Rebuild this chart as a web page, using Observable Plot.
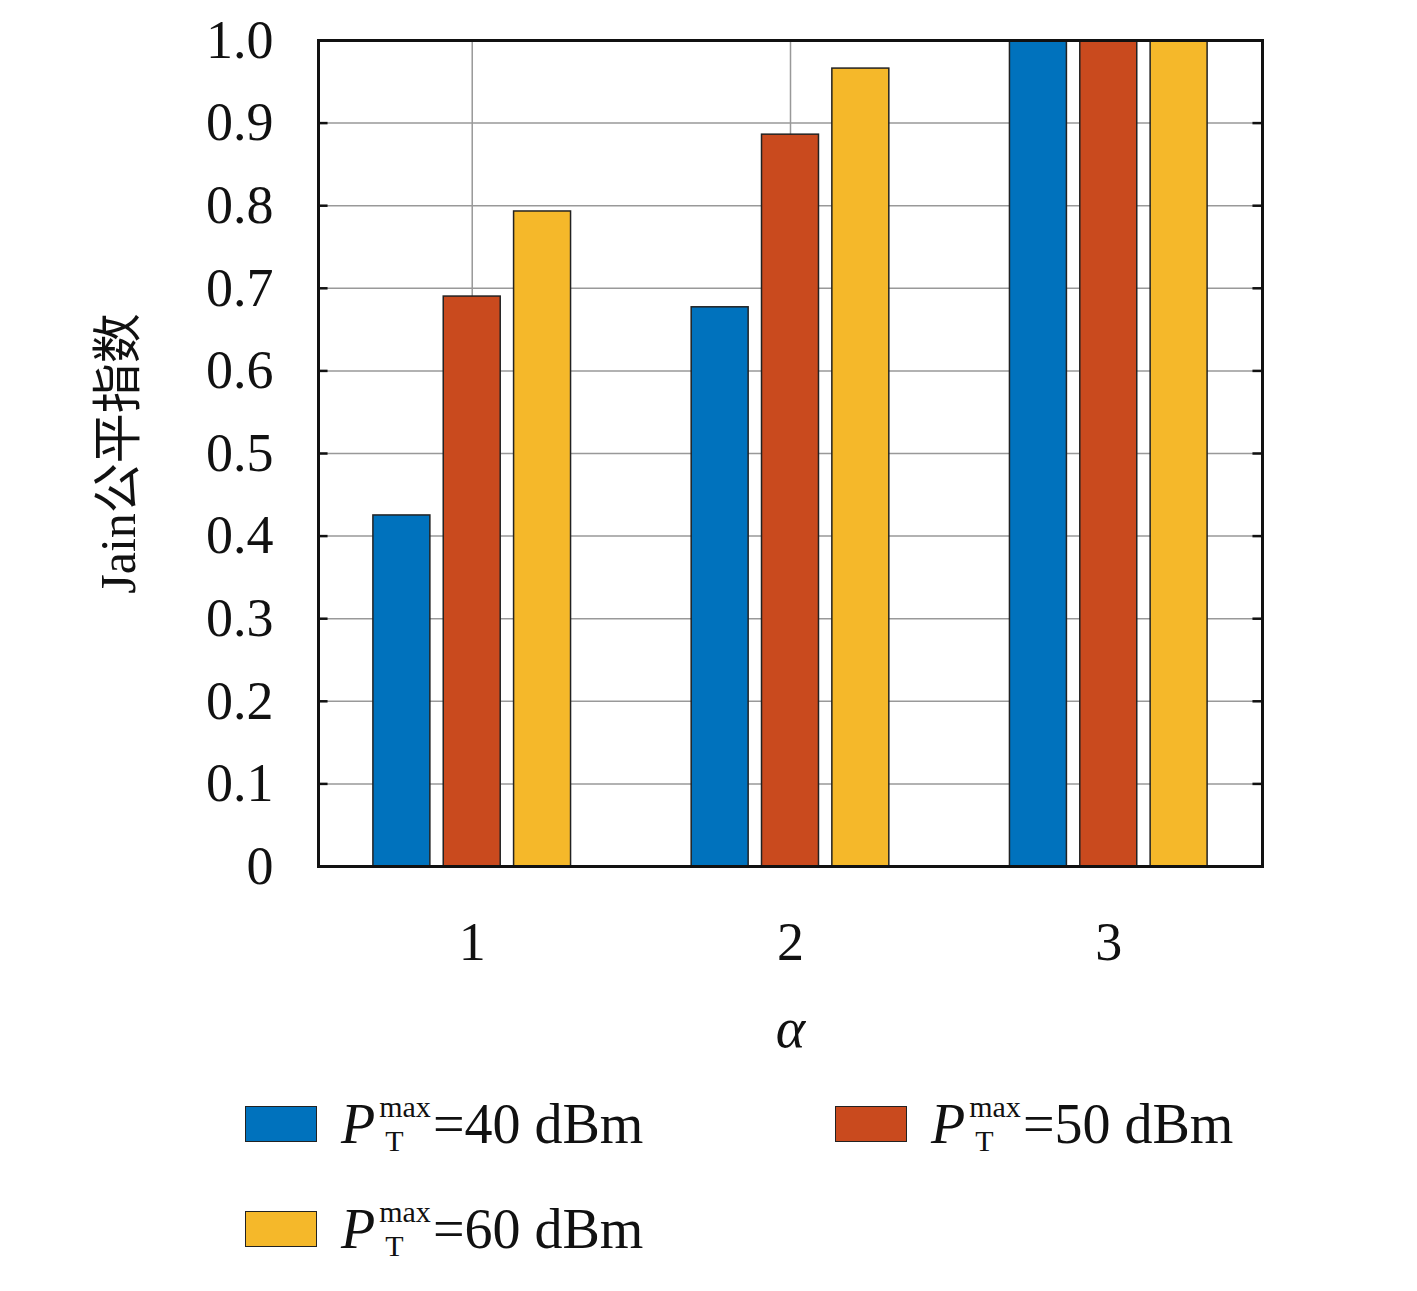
<!DOCTYPE html>
<html><head><meta charset="utf-8">
<script src="https://cdn.jsdelivr.net/npm/d3@7"></script>
<script src="https://cdn.jsdelivr.net/npm/@observablehq/plot@0.6"></script>
<style>
body{margin:0;background:#fff;font-family:"Liberation Serif","DejaVu Serif",serif;}
#legend{position:absolute;left:245px;top:1090px;width:1150px;font-size:56px;color:#111;}
.item{position:absolute;display:flex;align-items:center;}
.sw{width:70px;height:34px;border:1.5px solid #222;margin-right:24px;}
.p{font-style:italic;margin-right:4px;}
.ss{display:inline-flex;flex-direction:column;font-size:30px;line-height:34px;margin-right:2px;}
</style></head><body>
<div id="chart"></div>
<div id="legend"></div>
<script>
const alphas = [1, 2, 3];
const series = ["40", "50", "60"];
const colors = ["#0072BD", "#C94A1E", "#F5B82A"];
const v40 = [0.425, 0.677, 1.0];
const v50 = [0.690, 0.886, 1.0];
const v60 = [0.793, 0.966, 1.0];
const vals = [v40, v50, v60];
const data = [];
series.forEach((s, si) => alphas.forEach((a, ai) => data.push({alpha: a, s, si, v: vals[si][ai]})));
const step = 0.221, w = 0.179;
const inner = d3.range(1, 10).map(i => i / 10);
const chart = Plot.plot({
  width: 1417, height: 1080,
  marginLeft: 318, marginRight: 155, marginTop: 40, marginBottom: 214,
  style: {fontFamily: "Liberation Serif, DejaVu Serif, serif", fontSize: "54px", color: "#111"},
  x: {domain: [0.517, 3.483], label: null},
  y: {domain: [0, 1], label: null},
  color: {domain: series, range: colors},
  marks: [
    Plot.gridX(alphas, {stroke: "#999", strokeOpacity: 1, strokeWidth: 1.5}),
    Plot.gridY(inner, {stroke: "#999", strokeOpacity: 1, strokeWidth: 1.5}),
    Plot.ruleY(inner, {y: d => d, x1: 3.483 - 0.03, x2: 3.483, stroke: "#111", strokeWidth: 2.5}),
    Plot.ruleY(inner, {y: d => d, x1: 0.517, x2: 0.547, stroke: "#111", strokeWidth: 2.5}),
    Plot.rectY(data, {x1: d => d.alpha + (d.si - 1) * step - w / 2, x2: d => d.alpha + (d.si - 1) * step + w / 2, y1: 0, y2: "v", fill: "s", stroke: "#222", strokeWidth: 1.5}),
    Plot.frame({stroke: "#111", strokeWidth: 3}),
    Plot.axisX({ticks: alphas, tickSize: 0, tickPadding: 55, tickFormat: d => d, label: null}),
    Plot.axisY({ticks: d3.range(0, 11).map(i => i / 10), tickSize: 0, tickPadding: 45, tickFormat: d => d === 0 ? "0" : d.toFixed(1), label: null}),
    Plot.text(["α"], {frameAnchor: "bottom", dy: 180, fontSize: 56, fontStyle: "italic"}),
    Plot.text(["Jain公平指数"], {frameAnchor: "left", textAnchor: "middle", dx: -200, rotate: -90, fontSize: 50, fontFamily: "Liberation Serif, Noto Sans CJK SC, serif"})
  ]
});
document.getElementById("chart").appendChild(chart);
const pos = [[0, 0], [590, 0], [0, 105]];
const lg = document.getElementById("legend");
series.forEach((s, i) => {
  const d = document.createElement("div");
  d.className = "item";
  d.style.left = pos[i][0] + "px"; d.style.top = pos[i][1] + "px";
  d.innerHTML = `<div class="sw" style="background:${colors[i]}"></div><span class="p">P</span><span class="ss"><span>max</span><span style="margin-left:6px">T</span></span>=${s} dBm`;
  lg.appendChild(d);
});
</script></body></html>
